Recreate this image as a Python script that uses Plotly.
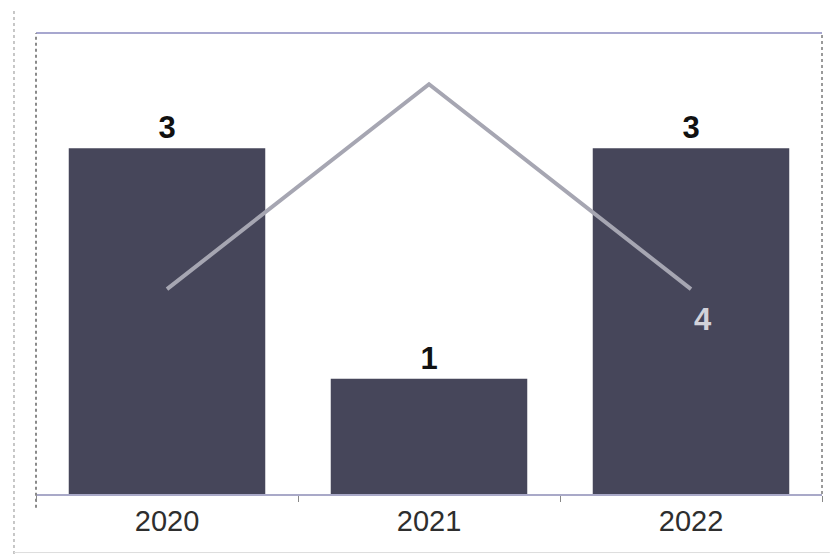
import plotly.graph_objects as go

categories = ["2020", "2021", "2022"]
bar_values = [3, 1, 3]
line_values = [4, 8, 4]
line_labels = ["", "", "4"]

FONT = "Liberation Sans, Arial, sans-serif"
NARROW = "Liberation Sans Narrow, Arial Narrow, Liberation Sans, Arial, sans-serif"

fig = go.Figure()
fig.add_trace(go.Bar(
    x=categories, y=bar_values, width=0.75,
    marker=dict(color="#46465a", line=dict(width=0)),
    text=[str(v) for v in bar_values], textposition="outside",
    constraintext="none",
    textfont=dict(family=FONT, size=31, color="#111111", weight="bold"),
    cliponaxis=False, showlegend=False, hoverinfo="skip",
))
fig.add_trace(go.Scatter(
    x=categories, y=line_values, yaxis="y2", mode="lines",
    line=dict(color="#a6a6b2", width=4),
    cliponaxis=False, showlegend=False, hoverinfo="skip",
))

annotations = []
for i, (c, v, t) in enumerate(zip(categories, line_values, line_labels)):
    if t:
        annotations.append(dict(
            x=i, y=v, xref="x", yref="y2", text=t, showarrow=False,
            xshift=12, yshift=-30,
            font=dict(family=FONT, size=31, color="#d2d2da", weight="bold"),
        ))

fig.update_layout(
    width=833, height=556,
    margin=dict(l=36, r=11, t=33, b=62),
    paper_bgcolor="white", plot_bgcolor="white",
    xaxis=dict(
        type="category",
        showgrid=False, showline=True, linecolor="#a9a9c8", linewidth=2,
        ticks="outside", tickcolor="#888888", ticklen=6, tickson="boundaries",
        tickfont=dict(family=NARROW, size=29, color="#2e2e2e"),
        tickangle=0, zeroline=False,
    ),
    yaxis=dict(range=[0, 4], visible=False, showgrid=False),
    yaxis2=dict(range=[0, 9], visible=False, overlaying="y", side="right", showgrid=False),
    annotations=annotations,
    shapes=[
        dict(type="line", xref="paper", yref="paper", x0=0, x1=1, y0=1, y1=1,
             line=dict(color="#a7a7cf", width=2)),
        dict(type="line", xref="paper", yref="paper", x0=0, x1=0, y0=-0.03, y1=1,
             line=dict(color="#8a8a8a", width=2, dash="dot")),
        dict(type="line", xref="paper", yref="paper", x0=1, x1=1, y0=0, y1=1,
             line=dict(color="#9a9a9a", width=2, dash="dot")),
        dict(type="line", xref="paper", yref="paper", x0=-0.028, x1=-0.028, y0=-0.13, y1=1.05,
             line=dict(color="#b5b5b5", width=1.5, dash="dot")),
        dict(type="line", xref="paper", yref="paper", x0=-0.028, x1=1.01, y0=-0.127, y1=-0.127,
             line=dict(color="#dddddd", width=1)),
    ],
)

fig.write_html(
    "out.html",
    config={"displayModeBar": False},
    post_script="document.body.style.margin='0';document.body.style.overflow='hidden';",
)
